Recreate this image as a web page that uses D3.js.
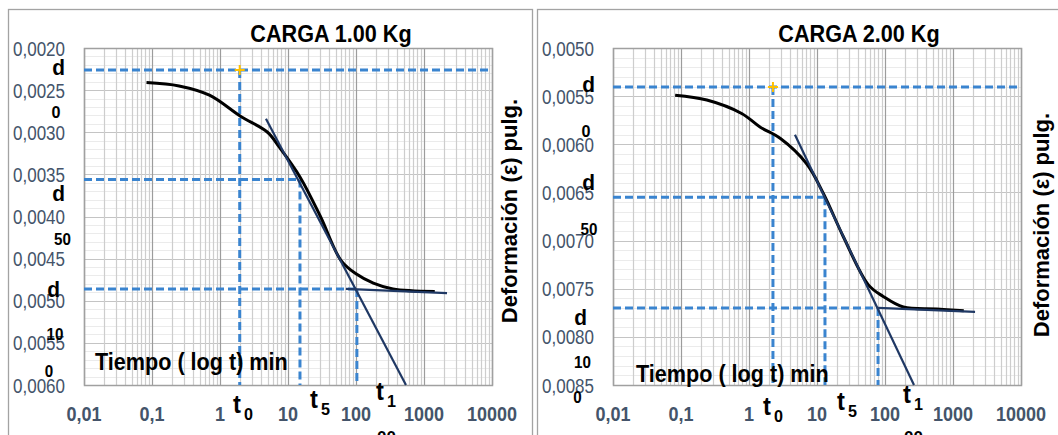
<!DOCTYPE html>
<head>
<meta charset="utf-8" />
<script src="https://cdn.jsdelivr.net/npm/d3@7"></script>
<style>
body { margin: 0; background: #fff; }
svg { display: block; }
text { font-family: "Liberation Sans", Arial, sans-serif; }
</style>
</head>
<body>
<script>
// ---- data ----
var xTickValues = [0.01, 0.1, 1, 10, 100, 1000, 10000];
var xTickLabels = ["0,01", "0,1", "1", "10", "100", "1000", "10000"];

var yTicks1 = [0.0020, 0.0025, 0.0030, 0.0035, 0.0040, 0.0045, 0.0050, 0.0055, 0.0060];
var yLabels1 = ["0,0020", "0,0025", "0,0030", "0,0035", "0,0040", "0,0045", "0,0050", "0,0055", "0,0060"];
var yTicks2 = [0.0050, 0.0055, 0.0060, 0.0065, 0.0070, 0.0075, 0.0080, 0.0085];
var yLabels2 = ["0,0050", "0,0055", "0,0060", "0,0065", "0,0070", "0,0075", "0,0080", "0,0085"];

// CARGA 1.00 Kg
var time1 = [0.083, 0.25, 0.7, 2, 5, 7.5, 15, 30, 60, 100, 180, 350, 1440];
var def1 = [0.00241, 0.00245, 0.00256, 0.00281, 0.00300, 0.00318, 0.00353, 0.00400, 0.00452, 0.00468, 0.00479, 0.00486, 0.00489];
var steep1 = [[4.74, 0.00284], [543, 0.0060]];
var flat1 = [[71, 0.00486], [2180, 0.00491]];
var dVals1 = [0.00226, 0.00356, 0.00486];   // d0, d50, d100
var tVals1 = [1.95, 15, 103];               // t0, t50, t100

// CARGA 2.00 Kg
var time2 = [0.082, 0.24, 0.78, 1.45, 2.9, 7, 12.4, 24.4, 57, 94, 186, 575, 1440];
var def2 = [0.00549, 0.00554, 0.00568, 0.00582, 0.00594, 0.00620, 0.00651, 0.00696, 0.00746, 0.00758, 0.00769, 0.00771, 0.00773];
var steep2 = [[4.74, 0.00590], [267, 0.0085]];
var flat2 = [[79, 0.00770], [2110, 0.00774]];
var dVals2 = [0.005405, 0.00655, 0.0077];
var tVals2 = [2.25, 13.1, 79];

var titles = ["CARGA 1.00 Kg", "CARGA 2.00 Kg"];
var xTitle = "Tiempo ( log t) min";
var yTitle = "Deformación (ε) pulg.";

var width = 1058, height = 435;
var svg = d3.select("body").append("svg")
    .attr("width", width)
    .attr("height", height);

svg.append("rect").attr("width", width).attr("height", height).attr("fill", "#fff");

// helper: text squeezed horizontally like the source picture
function label(g, x, y, s, size, opt) {
  opt = opt || {};
  return g.append("text")
    .attr("transform", "translate(" + x + "," + y + ") scale(" + (opt.sx || 1) + ",1)")
    .attr("font-size", size)
    .attr("font-weight", opt.bold ? "bold" : "normal")
    .attr("text-anchor", opt.anchor || "start")
    .attr("fill", opt.fill || "#000")
    .text(s);
}

function drawChart(cfg) {
  var g = svg.append("g");

  // panel frame
  g.append("rect")
    .attr("x", cfg.frameX + 0.5).attr("y", 9.5)
    .attr("width", cfg.frameW).attr("height", 460)
    .attr("fill", "none").attr("stroke", "#a3a3a3").attr("stroke-width", 1.3);

  var left = cfg.left, top = 48, bottom = 385, plotW = 408;
  var x = d3.scaleLog().domain([0.01, 10000]).range([left, left + plotW]);
  var y = d3.scaleLinear().domain(cfg.yDomain).range([top, bottom]);

  // horizontal grid: minor then major
  var minorY = y.ticks(Math.round((cfg.yDomain[1] - cfg.yDomain[0]) / 0.0001));
  g.append("g").selectAll("line").data(minorY).enter().append("line")
    .attr("x1", left).attr("x2", left + plotW)
    .attr("y1", function(d) { return Math.round(y(d)) + 0.5; })
    .attr("y2", function(d) { return Math.round(y(d)) + 0.5; })
    .attr("stroke", "#ebebeb");
  g.append("g").selectAll("line").data(cfg.yTicks).enter().append("line")
    .attr("x1", left).attr("x2", left + plotW)
    .attr("y1", function(d) { return Math.round(y(d)) + 0.5; })
    .attr("y2", function(d) { return Math.round(y(d)) + 0.5; })
    .attr("stroke", "#c4c4c4").attr("stroke-width", 1.2);

  // vertical grid from the log scale
  var vt = x.ticks();
  g.append("g").selectAll("line").data(vt).enter().append("line")
    .attr("x1", function(d) { return Math.round(x(d)) + 0.5; })
    .attr("x2", function(d) { return Math.round(x(d)) + 0.5; })
    .attr("y1", top).attr("y2", bottom)
    .attr("stroke", function(d) {
      var l = Math.log10(d);
      return Math.abs(l - Math.round(l)) < 1e-9 ? "#9c9c9c" : "#cdcdcd";
    })
    .attr("stroke-width", 1.2);

  g.append("rect")
    .attr("x", left + 0.5).attr("y", top + 0.5)
    .attr("width", plotW).attr("height", bottom - top)
    .attr("fill", "none").attr("stroke", "#a0a0a0").attr("stroke-width", 1.5);

  // y tick labels
  cfg.yTicks.forEach(function(v, i) {
    label(g, left - 19, y(v) + 7.5, cfg.yLabels[i], 21, {anchor: "end", sx: 0.81, fill: "#44546a"});
  });
  // x tick labels
  xTickValues.forEach(function(v, i) {
    label(g, x(v), 421, xTickLabels[i], 20, {anchor: "middle", sx: 0.9, bold: true, fill: "#44546a"});
  });

  // construction lines (dashed)
  var dash = g.append("g")
    .attr("fill", "none").attr("stroke", "#3a84cf")
    .attr("stroke-width", 3).attr("stroke-dasharray", "8,4");
  var d0 = cfg.dVals[0], d50 = cfg.dVals[1], d100 = cfg.dVals[2];
  var t0 = cfg.tVals[0], t50 = cfg.tVals[1], t100 = cfg.tVals[2];
  dash.append("line").attr("x1", left).attr("x2", left + plotW - 2).attr("y1", y(d0)).attr("y2", y(d0));
  dash.append("line").attr("x1", x(t0)).attr("x2", x(t0)).attr("y1", y(d0)).attr("y2", bottom);
  dash.append("line").attr("x1", left).attr("x2", x(t50)).attr("y1", y(d50)).attr("y2", y(d50));
  dash.append("line").attr("x1", x(t50)).attr("x2", x(t50)).attr("y1", y(d50)).attr("y2", bottom);
  dash.append("line").attr("x1", left).attr("x2", x(t100)).attr("y1", y(d100)).attr("y2", y(d100));
  dash.append("line").attr("x1", x(t100)).attr("x2", x(t100)).attr("y1", y(d100)).attr("y2", bottom);

  // consolidation curve
  var pts = cfg.time.map(function(t, i) { return [t, cfg.def[i]]; });
  var line = d3.line()
    .x(function(d) { return x(d[0]); })
    .y(function(d) { return y(d[1]); })
    .curve(d3.curveCatmullRom.alpha(0.5));
  g.append("path").datum(pts).attr("d", line)
    .attr("fill", "none").attr("stroke", "#000").attr("stroke-width", 3);

  // tangents
  var straight = d3.line().x(function(d) { return x(d[0]); }).y(function(d) { return y(d[1]); });
  [cfg.steep, cfg.flat].forEach(function(seg) {
    g.append("path").datum(seg).attr("d", straight)
      .attr("fill", "none").attr("stroke", "#1f3864").attr("stroke-width", 2.2);
  });

  // yellow marker at (t0, d0)
  var mx = x(t0), my = y(d0);
  g.append("path")
    .attr("d", "M" + (mx - 5) + "," + my + "H" + (mx + 5) + "M" + mx + "," + (my - 5) + "V" + (my + 5))
    .attr("stroke", "#ffc000").attr("stroke-width", 2);

  // titles
  label(g, cfg.titleX, 42, cfg.title, 23, {anchor: "middle", sx: 0.94, bold: true});
  label(g, cfg.xTitlePos[0], cfg.xTitlePos[1], xTitle, 24, {sx: 0.9, bold: true});
  g.append("text")
    .attr("transform", "translate(" + cfg.yTitlePos[0] + "," + cfg.yTitlePos[1] + ") rotate(-90)")
    .attr("font-size", 22).attr("font-weight", "bold")
    .attr("text-anchor", "middle")
    .text(yTitle);

  // d / t annotations
  cfg.dLabels.forEach(function(a) {
    label(g, a[1], a[2], a[0], a[3], {anchor: a[4], bold: true, sx: 0.95});
  });
  cfg.tLabels.forEach(function(a) {
    label(g, a[1], a[2], "t", 25, {bold: true, sx: 0.95});
    label(g, a[1] + 11, a[2] + 7, a[0], 17, {bold: true, sx: 0.95});
  });
  label(g, cfg.tLabels[2][1] + 1, 443, "00", 17, {bold: true});
}

drawChart({
  frameX: 8, frameW: 524, left: 84,
  yDomain: [0.0020, 0.0060], yTicks: yTicks1, yLabels: yLabels1,
  time: time1, def: def1, steep: steep1, flat: flat1,
  dVals: dVals1, tVals: tVals1,
  title: titles[0], titleX: 331,
  xTitlePos: [95, 370], yTitlePos: [517, 211],
  dLabels: [["d", 65, 75, 22, "end"], ["0", 56, 118, 17, "middle"],
            ["d", 65, 201, 22, "end"], ["50", 62.5, 245, 16, "middle"],
            ["d", 60, 297, 22, "end"], ["10", 55, 340, 16, "middle"], ["0", 49, 377, 16, "middle"]],
  tLabels: [["0", 233, 413], ["5", 310, 408], ["1", 376, 400]]
});

drawChart({
  frameX: 537, frameW: 530, left: 613,
  yDomain: [0.0050, 0.0085], yTicks: yTicks2, yLabels: yLabels2,
  time: time2, def: def2, steep: steep2, flat: flat2,
  dVals: dVals2, tVals: tVals2,
  title: titles[1], titleX: 859,
  xTitlePos: [636, 382], yTitlePos: [1049, 225],
  dLabels: [["d", 595, 92, 22, "end"], ["0", 586, 137, 17, "middle"],
            ["d", 595, 190, 22, "end"], ["50", 589, 235, 16, "middle"],
            ["d", 587, 325, 22, "end"], ["10", 582.5, 368, 16, "middle"], ["0", 577.5, 403, 16, "middle"]],
  tLabels: [["0", 763, 415], ["5", 837, 410], ["1", 903, 403]]
});
</script>
</body>
